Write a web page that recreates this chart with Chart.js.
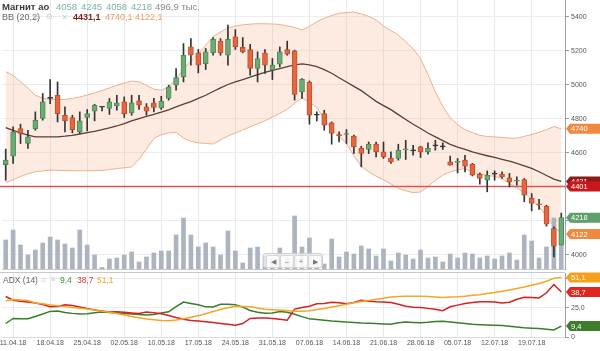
<!DOCTYPE html>
<html>
<head>
<meta charset="utf-8">
<script src="https://cdn.jsdelivr.net/npm/chart.js@4.4.1/dist/chart.umd.min.js"></script>
<style>
  html, body { margin: 0; padding: 0; background: #fff; }
  #wrap { position: relative; width: 600px; height: 351px; overflow: hidden; font-family: Arial, "Liberation Sans", sans-serif; }
  #priceChart { position: absolute; left: 0; top: 0; }
  #adxChart { position: absolute; left: 0; top: 270px; }
  .t { position: absolute; white-space: nowrap; font-size: 9.5px; line-height: 10px; }
  .nav { position: absolute; left: 263px; top: 253px; width: 60px; height: 15px; background: rgba(244,244,244,0.75); border: 1px solid #cfcfcf; border-radius: 3px; box-sizing: border-box; }
  .nav span { position: absolute; top: 1px; width: 12px; height: 11px; border: 1px solid #d8d8d8; border-radius: 2px; background: rgba(255,255,255,0.6); font-size: 7px; line-height: 11px; text-align: center; color: #777; }
</style>
</head>
<body>
<div id="wrap">
  <canvas id="priceChart" width="600" height="270"></canvas>
  <canvas id="adxChart" width="600" height="81"></canvas>

  <div class="t" style="left:2px;top:2px;font-weight:bold;color:#3a3a3a;">Магнит ао</div>
  <div class="t" style="left:56px;top:2px;color:#7db3a0;">4058</div>
  <div class="t" style="left:81px;top:2px;color:#7db3a0;">4245</div>
  <div class="t" style="left:106px;top:2px;color:#7db3a0;">4058</div>
  <div class="t" style="left:131px;top:2px;color:#7db3a0;">4218</div>
  <div class="t" style="left:155px;top:2px;color:#8a8a8a;">496,9 тыс.</div>

  <div class="t" style="left:2px;top:12px;font-size:9px;color:#666;">BB (20,2)</div>
  <div class="t" style="left:33px;top:12px;font-size:8px;color:#c4c4c4;">⊖</div>
  <div class="t" style="left:46px;top:12px;font-size:8px;color:#c4c4c4;">⊙</div>
  <div class="t" style="left:62px;top:12px;font-size:9px;color:#c4c4c4;">×</div>
  <div class="t" style="left:73px;top:12px;font-size:9px;font-weight:bold;color:#7a1e1a;">4431,1</div>
  <div class="t" style="left:105px;top:12px;font-size:9px;color:#eb9a60;">4740,1</div>
  <div class="t" style="left:135px;top:12px;font-size:9px;color:#eb9a60;">4122,1</div>

  <div class="nav">
    <span style="left:2px;">◀</span>
    <span style="left:16px;">–</span>
    <span style="left:30px;">+</span>
    <span style="left:44px;">▶</span>
  </div>

  <div class="t" style="left:3px;top:275px;font-size:8.5px;color:#666;">ADX (14)</div>
  <div class="t" style="left:40px;top:275px;font-size:8px;color:#c4c4c4;">☼</div>
  <div class="t" style="left:51px;top:275px;font-size:8px;color:#c4c4c4;">≡</div>
  <div class="t" style="left:60px;top:275px;font-size:8.5px;color:#4d8b3a;">9,4</div>
  <div class="t" style="left:77px;top:275px;font-size:8.5px;color:#d9383a;">38,7</div>
  <div class="t" style="left:97px;top:275px;font-size:8.5px;color:#f0aa2a;">51,1</div>
</div>

<script>
const dates = ["10.04.18","11.04.18","12.04.18","13.04.18","16.04.18","17.04.18","18.04.18","19.04.18","20.04.18","23.04.18",
  "24.04.18","25.04.18","26.04.18","27.04.18","28.04.18","30.04.18","02.05.18","03.05.18","04.05.18","07.05.18",
  "08.05.18","10.05.18","11.05.18","14.05.18","15.05.18","16.05.18","17.05.18","18.05.18","21.05.18","22.05.18",
  "23.05.18","24.05.18","25.05.18","28.05.18","29.05.18","30.05.18","31.05.18","01.06.18","04.06.18","05.06.18",
  "06.06.18","07.06.18","08.06.18","09.06.18","11.06.18","13.06.18","14.06.18","15.06.18","18.06.18","19.06.18",
  "20.06.18","21.06.18","22.06.18","25.06.18","26.06.18","27.06.18","28.06.18","29.06.18","02.07.18","03.07.18",
  "04.07.18","05.07.18","06.07.18","09.07.18","10.07.18","11.07.18","12.07.18","13.07.18","16.07.18","17.07.18",
  "18.07.18","19.07.18","20.07.18","23.07.18","24.07.18","25.07.18"];

const shownDates = ["11.04.18","18.04.18","25.04.18","02.05.18","10.05.18","17.05.18","24.05.18","31.05.18",
  "07.06.18","14.06.18","21.06.18","28.06.18","05.07.18","12.07.18","19.07.18"];

const priceTicks = [4000, 4200, 4400, 4600, 4800, 5000, 5200, 5400];
const adxTicks = [0, 25, 50];

const openP = [4529,4580,4742,4654,4742,4801,4919,4938,4820,4807,4722,4807,4844,4867,4860,4875,4899,4834,4905,4869,
  4893,4863,4919,4997,5046,5222,5187,5124,5187,5257,5173,5281,5219,5207,5095,5187,5085,5120,5207,5199,
  4957,5016,4820,4830,4775,4706,4707,4697,4625,4619,4650,4605,4569,4566,4617,4611,4634,4605,4640,4634,
  4546,4543,4556,4532,4474,4438,4474,4474,4452,4432,4442,4331,4299,4285,4154,4058];
const highP = [4621,4752,4768,4732,4840,4948,5030,5016,4869,4820,4840,4854,4885,4869,4919,4938,4928,4938,4938,4889,
  4919,4932,4997,5095,5242,5271,5207,5213,5277,5271,5350,5324,5277,5238,5193,5207,5154,5222,5256,5203,
  5036,5022,4840,4850,4781,4722,4736,4703,4638,4663,4663,4663,4605,4650,4673,4644,4638,4658,4673,4658,
  4580,4566,4585,4537,4481,4493,4493,4487,4478,4458,4448,4360,4325,4291,4164,4245];
const lowP = [4438,4537,4654,4625,4732,4791,4889,4781,4722,4716,4713,4728,4787,4846,4825,4850,4807,4820,4854,4820,
  4840,4854,4909,4967,5016,5115,5069,5089,5173,5173,5115,5207,5187,5056,5016,5066,5030,5104,5173,4909,
  4919,4768,4787,4732,4650,4663,4654,4595,4517,4595,4575,4566,4537,4556,4560,4585,4572,4591,4615,4619,
  4527,4481,4487,4463,4415,4370,4438,4448,4399,4409,4311,4258,4266,4168,3987,4058];
const closeP = [4556,4722,4713,4693,4791,4899,4919,4830,4787,4736,4787,4830,4878,4867,4899,4893,4830,4893,4879,4844,
  4866,4903,4987,5042,5173,5173,5115,5193,5266,5187,5266,5222,5193,5095,5154,5115,5115,5193,5179,4942,
  5032,4820,4820,4762,4713,4700,4710,4634,4595,4650,4605,4575,4546,4615,4621,4611,4605,4625,4640,4634,
  4527,4548,4521,4468,4448,4468,4474,4458,4428,4436,4350,4301,4293,4180,4050,4218];

// объём, тыс.
const volumeK = [290,390,240,140,190,260,320,290,250,210,390,240,140,15,100,110,140,170,70,120,
  160,180,180,340,510,340,220,260,220,140,380,180,60,210,220,130,100,210,120,530,
  220,310,60,50,300,120,170,150,230,200,130,200,80,160,140,100,190,110,120,70,
  150,110,160,150,110,130,100,130,160,90,340,280,110,220,510,496.9];

const bbUpper = [5077,5055,5018,4980,4937,4921,4913,4913,4913,4919,4928,4939,4951,4966,4981,4996,5010,5021,5017,4996,
  4973,4968,4985,5036,5092,5142,5181,5232,5283,5310,5333,5345,5352,5356,5359,5358,5357,5354,5346,5337,
  5322,5343,5370,5390,5407,5420,5424,5427,5416,5402,5380,5345,5318,5292,5254,5211,5154,5060,4958,4872,
  4805,4766,4735,4719,4702,4695,4693,4690,4686,4685,4696,4707,4720,4735,4754,4740.1];
const bbMiddle = [4748,4731,4717,4703,4693,4693,4693,4693,4697,4702,4710,4718,4726,4735,4746,4757,4771,4787,4801,4813,
  4826,4839,4852,4869,4885,4900,4919,4938,4960,4981,5001,5016,5030,5044,5059,5073,5084,5095,5106,5117,
  5122,5117,5106,5088,5067,5041,5016,4990,4965,4933,4902,4877,4853,4824,4795,4767,4742,4716,4693,4671,
  4649,4633,4619,4605,4593,4582,4572,4561,4550,4537,4523,4508,4488,4466,4445,4431.1];
const bbLower = [4424,4440,4460,4476,4488,4493,4497,4496,4495,4494,4493,4494,4494,4496,4501,4507,4511,4516,4561,4621,
  4684,4706,4716,4720,4686,4667,4658,4654,4651,4675,4698,4716,4734,4752,4770,4788,4810,4831,4855,4891,
  4921,4898,4865,4798,4739,4696,4654,4582,4519,4488,4462,4441,4416,4390,4376,4365,4369,4400,4438,4468,
  4488,4499,4507,4487,4476,4466,4461,4447,4419,4392,4364,4324,4283,4226,4167,4122.1];

const supportLevel = 4401;

const plusDI = [11.6,15.9,15.6,15.7,17.6,19.7,22.0,22.3,21.0,20.3,19.8,20.0,20.9,21.5,21.1,20.7,20.2,19.7,19.3,18.9,
  19.3,20.6,21.7,26.2,30.0,28.8,27.7,25.9,25.8,28.2,28.1,27.7,25.7,22.8,21.2,20.5,20.7,22.0,21.2,19.5,
  17.5,15.6,15.0,14.4,13.8,13.4,12.8,12.4,12.0,11.8,11.5,11.2,11.0,12.3,12.8,12.5,12.2,12.6,13.4,13.6,
  12.9,12.2,11.6,11.0,10.6,10.3,10.0,9.8,9.3,8.6,7.9,7.6,7.3,6.7,6.0,9.4];
const minusDI = [34.8,31.6,30.8,30.1,29.3,28.0,26.1,26.2,27.8,27.1,25.7,24.4,23.3,22.3,21.5,21.6,21.2,20.7,20.3,21.4,
  20.9,20.0,18.4,16.7,15.2,14.2,13.7,13.1,12.5,11.7,10.9,10.2,11.6,15.9,16.3,16.3,16.0,15.3,14.5,24.0,
  25.4,26.4,28.5,28.8,29.8,29.5,28.5,29.7,31.6,30.8,30.2,30.0,29.7,28.2,26.5,25.6,25.3,24.6,23.8,22.6,
  26.0,27.4,28.8,29.6,30.2,30.2,30.0,29.2,29.9,32.4,34.2,33.9,33.6,38.0,45.1,38.7];
const adxLine = [31.1,32.2,31.9,31.3,29.3,28.5,27.6,26.8,26.1,25.4,24.8,24.0,23.1,22.2,21.2,20.2,18.9,17.6,16.5,15.5,
  14.8,14.2,13.9,14.6,15.6,16.9,18.3,20.0,21.9,23.6,25.2,26.4,26.2,25.9,24.9,23.8,23.4,23.1,22.7,22.2,
  22.1,22.6,23.7,24.5,25.7,26.9,28.1,29.4,30.6,31.4,32.4,33.4,34.4,34.8,35.0,35.1,35.1,34.9,34.4,34.0,
  34.3,34.5,35.1,35.8,36.4,37.3,38.2,39.3,40.4,41.6,42.9,44.4,46.0,47.9,50.4,51.1];

const FONT = 'Arial, "Liberation Sans", sans-serif';
Chart.defaults.font.family = FONT;

const bodies = closeP.map((c, i) => [openP[i], c]);
const wicks = lowP.map((l, i) => [l, highP[i]]);
const bodyFill = closeP.map((c, i) => c > openP[i] ? "#6cab74" : (c < openP[i] ? "#e5673f" : "#333"));
const bodyLine = closeP.map((c, i) => c > openP[i] ? "#4b8a55" : (c < openP[i] ? "#c04e2c" : "#333"));

function xGridColor(ctx) {
  return shownDates.includes(dates[ctx.index]) ? "#e9e9e9" : "rgba(0,0,0,0)";
}

function noPad(scale) {
  scale.paddingTop = 0;
  scale.paddingBottom = 0;
  scale.paddingLeft = 0;
  scale.paddingRight = 0;
}

function drawTag(ctx, x, y, text, color) {
  const h = 10, w = 36;
  ctx.save();
  ctx.fillStyle = color;
  ctx.beginPath();
  ctx.moveTo(x, y);
  ctx.lineTo(x + 4, y - h / 2);
  ctx.lineTo(x + w, y - h / 2);
  ctx.lineTo(x + w, y + h / 2);
  ctx.lineTo(x + 4, y + h / 2);
  ctx.closePath();
  ctx.fill();
  ctx.fillStyle = "#fff";
  ctx.font = "7.5px " + FONT;
  ctx.textBaseline = "middle";
  ctx.fillText(text, x + 5, y + 0.5);
  ctx.restore();
}

const priceMarks = {
  id: "priceMarks",
  afterDatasetDraw(chart, args) {
    if (args.index !== 3) return;
    const ctx = chart.ctx;
    const y = chart.scales.y.getPixelForValue(supportLevel);
    ctx.save();
    ctx.strokeStyle = "#d95656";
    ctx.lineWidth = 1.4;
    ctx.beginPath();
    ctx.moveTo(0, y);
    ctx.lineTo(chart.chartArea.right, y);
    ctx.stroke();
    ctx.restore();
  },
  afterDraw(chart) {
    const ctx = chart.ctx;
    const ys = chart.scales.y;
    const x = chart.chartArea.right + 1;
    const n = closeP.length - 1;
    drawTag(ctx, x, ys.getPixelForValue(bbUpper[n]), String(Math.round(bbUpper[n])), "#f0883e");
    drawTag(ctx, x, ys.getPixelForValue(bbMiddle[n]), String(Math.round(bbMiddle[n])), "#8e1b1b");
    drawTag(ctx, x, ys.getPixelForValue(supportLevel), String(supportLevel), "#c9171d");
    drawTag(ctx, x, ys.getPixelForValue(closeP[n]), String(closeP[n]), "#5f9f6c");
    drawTag(ctx, x, ys.getPixelForValue(bbLower[n]), String(Math.round(bbLower[n])), "#f0883e");
  }
};

new Chart(document.getElementById("priceChart"), {
  type: "bar",
  plugins: [priceMarks],
  data: {
    labels: dates,
    datasets: [
      { type: "line", label: "BB верх", data: bbUpper, borderColor: "#e8b28f", borderWidth: 1,
        pointRadius: 0, fill: "+1", backgroundColor: "rgba(248,190,160,0.3)", order: 10 },
      { type: "line", label: "BB низ", data: bbLower, borderColor: "#e8b28f", borderWidth: 1,
        pointRadius: 0, fill: false, order: 9 },
      { type: "bar", label: "Объём", data: volumeK, yAxisID: "yVol", backgroundColor: "#abb4bf",
        barThickness: 4, grouped: false, order: 8 },
      { type: "line", label: "BB средняя", data: bbMiddle, borderColor: "#5c3d34", borderWidth: 1.3,
        pointRadius: 0, fill: false, order: 7 },
      { type: "bar", label: "Тени", data: wicks, backgroundColor: "#333", barThickness: 1,
        grouped: false, order: 6 },
      { type: "bar", label: "Магнит ао", data: bodies, backgroundColor: bodyFill, borderColor: bodyLine,
        borderWidth: 1, borderSkipped: false, barThickness: 5, minBarLength: 1, grouped: false, order: 5 }
    ]
  },
  options: {
    responsive: false,
    animation: false,
    events: [],
    layout: { padding: { left: 2, top: 0, right: 0, bottom: 0 } },
    plugins: { legend: { display: false }, tooltip: { enabled: false } },
    scales: {
      x: {
        type: "category",
        offset: true,
        grid: { offset: false, drawTicks: false, color: xGridColor },
        border: { display: true, color: "#c8c8c8" },
        ticks: { display: false, autoSkip: false },
        afterFit: (s) => { s.height = 1; noPad(s); }
      },
      y: {
        position: "right",
        min: 3916,
        max: 5498,
        ticks: { color: "#555", font: { size: 7 }, padding: 2, callback: (v) => String(v) },
        afterBuildTicks: (s) => { s.ticks = priceTicks.map((v) => ({ value: v })); },
        grid: { color: "#ececec", tickLength: 4, tickColor: "#999" },
        border: { display: true, color: "#a0a0a0" },
        afterFit: (s) => { s.width = 35; noPad(s); }
      },
      yVol: {
        display: false,
        position: "right",
        min: 0,
        max: 2690,
        ticks: { display: false },
        grid: { display: false },
        afterFit: (s) => { s.width = 0; noPad(s); }
      }
    }
  }
});

const adxMarks = {
  id: "adxMarks",
  afterDraw(chart) {
    const ctx = chart.ctx;
    const ys = chart.scales.y;
    const x = chart.chartArea.right + 1;
    const n = adxLine.length - 1;
    ctx.save();
    ctx.strokeStyle = "#c8c8c8";
    ctx.lineWidth = 1;
    ctx.beginPath();
    ctx.moveTo(0, chart.chartArea.top - 0.5);
    ctx.lineTo(chart.chartArea.right, chart.chartArea.top - 0.5);
    ctx.stroke();
    ctx.restore();
    const fmt = (v) => v.toFixed(1).replace(".", ",");
    drawTag(ctx, x, ys.getPixelForValue(adxLine[n]), fmt(adxLine[n]), "#f5a01a");
    drawTag(ctx, x, ys.getPixelForValue(minusDI[n]), fmt(minusDI[n]), "#e0261f");
    drawTag(ctx, x, ys.getPixelForValue(plusDI[n]), fmt(plusDI[n]), "#3d7d2b");
  }
};

new Chart(document.getElementById("adxChart"), {
  type: "line",
  plugins: [adxMarks],
  data: {
    labels: dates,
    datasets: [
      { label: "ADX", data: adxLine, borderColor: "#f5a623", borderWidth: 1.5, pointRadius: 0, fill: false },
      { label: "-DI", data: minusDI, borderColor: "#d82020", borderWidth: 1.5, pointRadius: 0, fill: false },
      { label: "+DI", data: plusDI, borderColor: "#3b7d2a", borderWidth: 1.5, pointRadius: 0, fill: false }
    ]
  },
  options: {
    responsive: false,
    animation: false,
    events: [],
    layout: { padding: { top: 3, left: 2, right: 0, bottom: 0 } },
    plugins: { legend: { display: false }, tooltip: { enabled: false } },
    scales: {
      x: {
        type: "category",
        offset: true,
        grid: { offset: false, drawTicks: false, color: xGridColor },
        border: { display: true, color: "#dcdcdc" },
        ticks: { autoSkip: false, maxRotation: 0, padding: 2, color: "#555", font: { size: 7 },
          callback: (v, i) => shownDates.includes(dates[i]) ? dates[i] : "" },
        afterFit: (s) => { s.height = 14; noPad(s); }
      },
      y: {
        position: "right",
        min: 0,
        max: 55,
        ticks: { color: "#555", font: { size: 7 }, padding: 2,
          callback: (v) => v === 0 ? "0" : v.toFixed(1).replace(".", ",") },
        afterBuildTicks: (s) => { s.ticks = adxTicks.map((v) => ({ value: v })); },
        grid: { color: "#ececec", tickLength: 4, tickColor: "#999" },
        border: { display: true, color: "#a0a0a0" },
        afterFit: (s) => { s.width = 35; noPad(s); }
      }
    }
  }
});
</script>
</body>
</html>
